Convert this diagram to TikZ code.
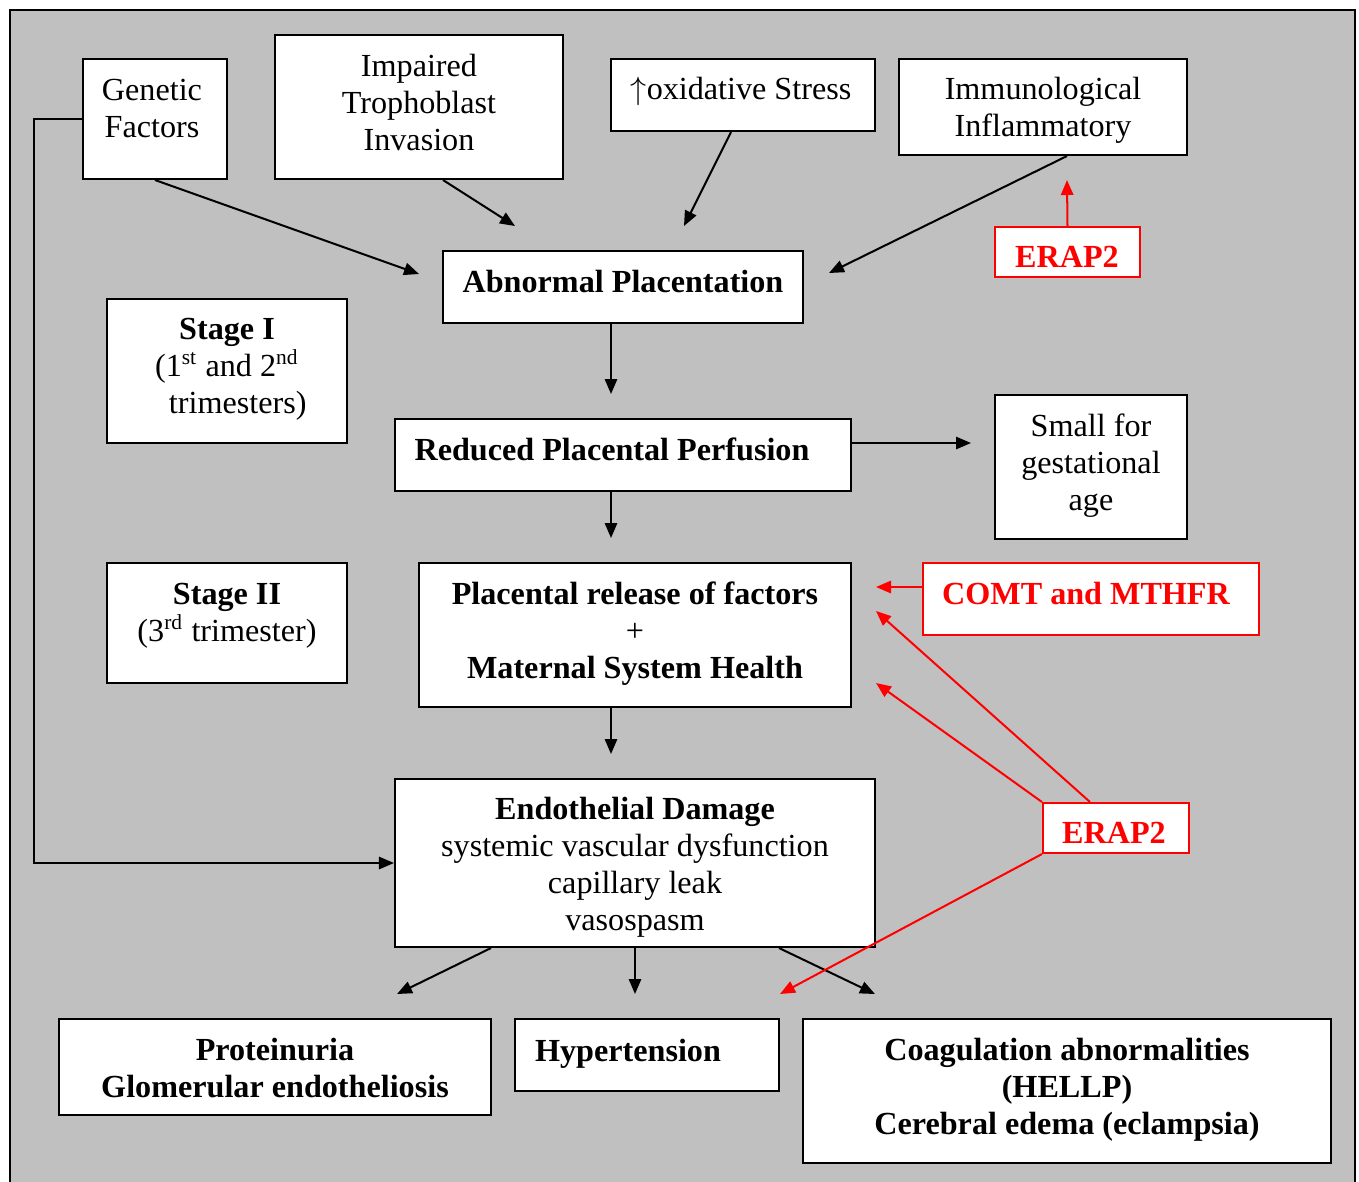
\documentclass[tikz,border=0pt]{standalone}
\usepackage{fontspec}
\setmainfont{Liberation Serif}
\usetikzlibrary{arrows.meta,calc,fit}
\definecolor{panelgray}{RGB}{192,192,192}
\definecolor{genred}{RGB}{255,0,0}

\begin{document}
\begin{tikzpicture}[x=0.3731pt,y=-0.3731pt,>={Triangle[length=5.6pt,width=4.6pt]},
  box/.style={draw,line width=0.75pt,fill=white,inner sep=0pt},
  redbox/.style={box,draw=genred},
  txt/.style={align=center,inner sep=0pt,font=\fontsize{12pt}{13.8pt}\selectfont},
  rtxt/.style={txt,text=genred,font=\fontsize{12pt}{13.8pt}\selectfont\bfseries},
  link/.style={->,line width=0.75pt},
  rlink/.style={link,draw=genred,fill=genred}]
  \useasboundingbox (0,0) rectangle (1359,1181);
  \draw[line width=0.75pt,fill=panelgray] (10,10) rectangle (1355,1200);

  % causes
  \node[box,fit={(83,59)(227,179)}] (gen) {};
  \node[txt] (genT) at (152,108.5) {Genetic\\Factors};
  \node[box,fit={(275,35)(563,179)}] (imp) {};
  \node[txt] (impT) at (419,102) {Impaired\\Trophoblast\\Invasion};
  \node[box,fit={(611,59)(875,131)}] (oxi) {};
  \node[txt] (oxiT) at (741,91) {$\uparrow$oxidative Stress};
  \node[box,fit={(899,59)(1187,155)}] (imm) {};
  \node[txt] (immT) at (1043,110.5) {Immunological\\Inflammatory};
  \node[redbox,fit={(995,227)(1140,277)}] (erapA) {};
  \node[rtxt] (erapAT) at (1067,257) {ERAP2};

  % main chain
  \node[box,fit={(443,251)(803,323)}] (abn) {};
  \node[txt] (abnT) at (623,281.5) {\textbf{Abnormal Placentation}};
  \node[box,fit={(107,299)(347,443)}] (st1) {};
  \node[txt] (st1T) at (227,369) {\textbf{Stage I}\\(1\textsuperscript{st} and 2\textsuperscript{nd}\\\hspace*{8pt}trimesters)};
  \node[box,fit={(395,419)(851,491)}] (red) {};
  \node[txt] (redT) at (612,449.5) {\textbf{Reduced Placental Perfusion}};
  \node[box,fit={(995,395)(1187,539)}] (sga) {};
  \node[txt] (sgaT) at (1091,466) {Small for\\gestational\\age};
  \node[box,fit={(107,563)(347,683)}] (st2) {};
  \node[txt] (st2T) at (227,615.5) {\textbf{Stage II}\\(3\textsuperscript{rd} trimester)};
  \node[box,fit={(419,563)(851,707)}] (rel) {};
  \node[txt] (relT) at (635,634) {\textbf{Placental release of factors}\\+\\\textbf{Maternal System Health}};
  \node[redbox,fit={(923,563)(1259,635)}] (comt) {};
  \node[rtxt] (comtT) at (1086,593) {COMT and MTHFR};
  \node[redbox,fit={(1043,803)(1189,853)}] (erapB) {};
  \node[rtxt] (erapBT) at (1114,833) {ERAP2};
  \node[box,fit={(395,779)(875,947)}] (endo) {};
  \node[txt] (endoT) at (635,867) {\textbf{Endothelial Damage}\\systemic vascular dysfunction\\capillary leak\\vasospasm};

  % outcomes
  \node[box,fit={(59,1019)(491,1115)}] (pro) {};
  \node[txt] (proT) at (275,1068.5) {\textbf{Proteinuria}\\\textbf{Glomerular endotheliosis}};
  \node[box,fit={(515,1019)(779,1091)}] (hyp) {};
  \node[txt] (hypT) at (628,1054) {\textbf{Hypertension}};
  \node[box,fit={(803,1019)(1331,1163)}] (coa) {};
  \node[txt] (coaT) at (1067,1089.5) {\textbf{Coagulation abnormalities}\\\textbf{(HELLP)}\\\textbf{Cerebral edema (eclampsia)}};

  % free arrow ends
  \coordinate (toAbnA) at (419,274);
  \coordinate (toAbnB) at (515,226);
  \coordinate (toAbnC) at (684,226);
  \coordinate (toAbnD) at (829,273);
  \coordinate (toImm) at (1067,180);
  \coordinate (toRed) at (611,394);
  \coordinate (toRel) at (611,538);
  \coordinate (toSga) at (971,443);
  \coordinate (toEndo) at (611,754);
  \coordinate (toRelA) at (876,587);
  \coordinate (toRelB) at (876,611);
  \coordinate (toRelC) at (876,683);
  \coordinate (toPro) at (397,994);
  \coordinate (toHyp) at (635,994);
  \coordinate (toCoaA) at (875,994);
  \coordinate (toCoaB) at (780,994);

  \draw[link] (gen.south) -- (toAbnA);
  \draw[link] ($(imp.south)+(24,0)$) -- (toAbnB);
  \draw[link] ($(oxi.south)+(-12,0)$) -- (toAbnC);
  \draw[link] ($(imm.south)+(24,0)$) -- (toAbnD);
  \draw[link] ($(abn.south)+(-12,0)$) -- (toRed);
  \draw[link] ($(red.south)+(-12,0)$) -- (toRel);
  \draw[link] ($(red.east)+(0,-12)$) -- (toSga);
  \draw[link] ($(rel.south)+(-24,0)$) -- (toEndo);
  \draw[link] (gen.west) -- ++(-48,0) |- (endo.west);
  \draw[link] ($(endo.south)+(-144,0)$) -- (toPro);
  \draw[link] (endo.south) -- (toHyp);
  \draw[link] ($(endo.south)+(144,0)$) -- (toCoaA);

  \draw[rlink] (erapA.north) -- (toImm);
  \draw[rlink] ($(comt.west)+(0,-12)$) -- (toRelA);
  \draw[rlink] ($(erapB.north)+(-26,0)$) -- (toRelB);
  \draw[rlink] (erapB.north west) -- (toRelC);
  \draw[rlink] (erapB.south west) -- (toCoaB);
\end{tikzpicture}
\end{document}
